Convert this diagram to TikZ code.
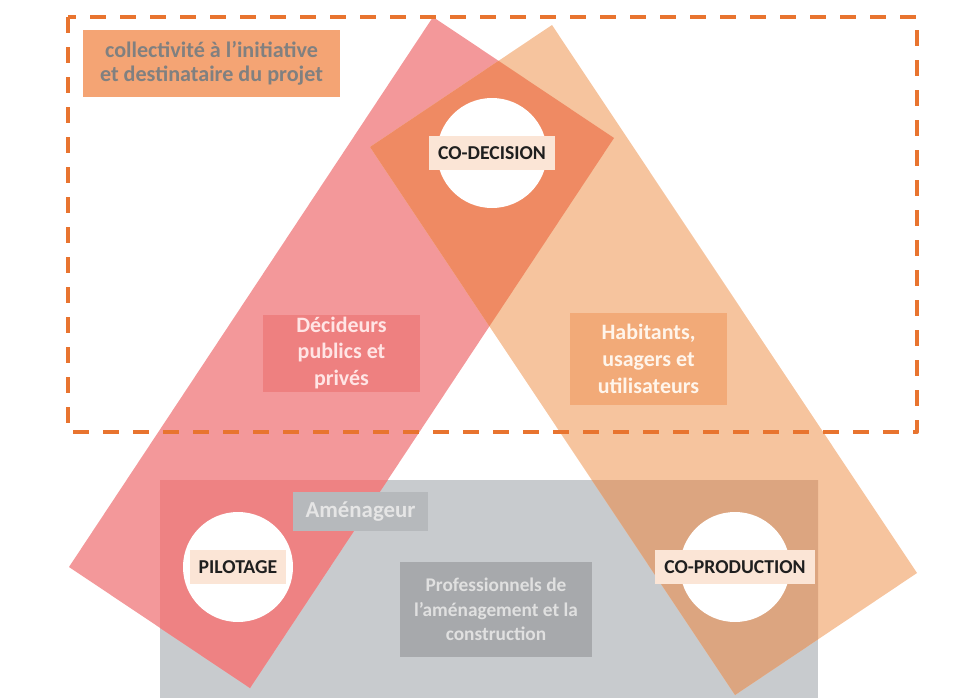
\documentclass[tikz,border=0pt]{standalone}
\usepackage{fontspec}
\setmainfont{Carlito}
\usetikzlibrary{positioning}

\definecolor{pinkband}{HTML}{F3989A}
\definecolor{orangeband}{HTML}{F6C49E}
\definecolor{codecision}{HTML}{EF8A63}
\definecolor{greyfield}{HTML}{C8CBCE}
\definecolor{pinkgrey}{HTML}{EE8283}
\definecolor{orangegrey}{HTML}{DCA580}
\definecolor{dashline}{HTML}{E8742F}
\definecolor{collbox}{HTML}{F4A474}
\definecolor{decbox}{HTML}{EE8080}
\definecolor{habbox}{HTML}{F2AA78}
\definecolor{amebox}{HTML}{B6B9BC}
\definecolor{probox}{HTML}{A7A9AC}
\definecolor{tagbox}{HTML}{FBE5D6}

% the two crossing bands, in pixel units
\newcommand{\leftband}{(433,17) -- (614,138) -- (250,688) -- (69,567) -- cycle}
\newcommand{\rightband}{(552,25) -- (917,573) -- (735,695) -- (370,147) -- cycle}
\newcommand{\greyrect}{(160,480) rectangle (818,698)}

\newcommand{\hub}[3]{

	\node[hub] (#1) at #2 {};
	\node[tag] (#1tag) at (#1) {#3};

}

\tikzset{
	lbl/.style={inner sep=0pt, align=center, font=\bfseries},
	hub/.style={circle, fill=white, minimum size=22mm, inner sep=0pt},
	tag/.style={fill=tagbox, text=black!88, inner xsep=1.8mm, inner ysep=0pt,
		minimum height=6.8mm, font=\fontsize{11.2}{13}\selectfont\bfseries}
}

\begin{document}
\begin{tikzpicture}[x=0.2mm, y=-0.2mm]

	\useasboundingbox (0,0) rectangle (958,698);

	% grey field and bands
	\fill[greyfield] \greyrect;
	\fill[pinkband] \leftband;
	\fill[orangeband] \rightband;
	\begin{scope}
		\clip \leftband;
		\fill[codecision] \rightband;
	\end{scope}
	\begin{scope}
		\clip \greyrect;
		\fill[pinkgrey] \leftband;
		\fill[orangegrey] \rightband;
	\end{scope}

	% dashed frame
	\draw[dashline, line width=0.8mm, line join=round,
		dash pattern=on 3.2mm off 2.8mm] (68,17) rectangle (917,432);

	% labels
	\node[lbl, fill=collbox, text=black!50, minimum width=51.4mm, minimum height=13.4mm,
		font=\fontsize{12.6}{13.5}\selectfont\bfseries] (coll) at (211.5,63.5)
		{collectivité à l'initiative\\et destinataire du projet};
	\node[lbl, fill=decbox, text=red!10, minimum width=31.4mm, minimum height=15.4mm,
		font=\fontsize{12.5}{15}\selectfont\bfseries] (decideurs) at (341.5,353)
		{Décideurs\\publics et\\privés};
	\node[lbl, fill=habbox, text=orange!8, minimum width=31.4mm, minimum height=18.4mm,
		font=\fontsize{12.5}{15.5}\selectfont\bfseries] (habitants) at (648.5,359)
		{Habitants,\\usagers et\\utilisateurs};
	\node[lbl, fill=amebox, text=black!10, minimum width=27mm, minimum height=7.8mm,
		font=\fontsize{13}{15}\selectfont\bfseries] (amenageur) at (360.5,511.5)
		{Aménageur};
	\node[lbl, fill=probox, text=black!12, minimum width=38.4mm, minimum height=19mm,
		font=\fontsize{11}{14}\selectfont\bfseries] (pros) at (496,609.5)
		{Professionnels de\\l’aménagement et la\\construction};

	% circles
	\hub{decision}{(492,153)}{CO-DECISION}
	\hub{pilotage}{(238,567)}{PILOTAGE}
	\hub{production}{(735,567)}{CO-PRODUCTION}

\end{tikzpicture}
\end{document}
